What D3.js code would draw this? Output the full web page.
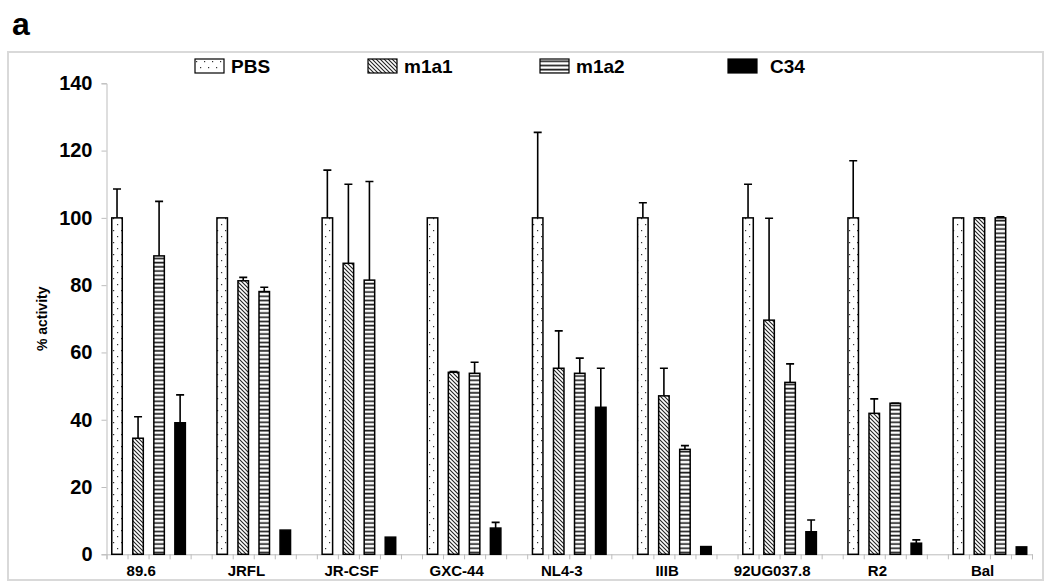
<!DOCTYPE html>
<html>
<head>
<meta charset="utf-8">
<script src="https://cdn.jsdelivr.net/npm/d3@7"></script>
<style>
  body { margin: 0; background: #fff; }
  text { font-family: Arial, "Liberation Sans", sans-serif; font-weight: bold; fill: #000; }
</style>
</head>
<body>
<svg id="chart" width="1050" height="588"></svg>
<script>
const strains = ['89.6', 'JRFL', 'JR-CSF', 'GXC-44', 'NL4-3', 'IIIB', '92UG037.8', 'R2', 'Bal'];
const seriesNames = ['PBS', 'm1a1', 'm1a2', 'C34'];

// bar heights (% activity), one array per series
const pbs  = [100, 100, 100, 100, 100, 100, 100, 100, 100];
const m1a1 = [34.5, 81.3, 86.5, 54.1, 55.3, 47.1, 69.6, 41.9, 100];
const m1a2 = [88.7, 78.1, 81.5, 53.8, 53.8, 31.2, 51.1, 44.9, 100];
const c34  = [39.1, 7.2, 5.1, 7.8, 43.7, 2.3, 6.7, 3.3, 2.2];

// top of error bar (null = no error bar)
const pbsErr  = [108.6, null, 114.2, null, 125.4, 104.5, 110, 117, null];
const m1a1Err = [40.9, 82.3, 110, 54.3, 66.4, 55.3, 99.9, 46.2, 100];
const m1a2Err = [104.9, 79.4, 110.8, 57.1, 58.3, 32.3, 56.6, 44.9, 100.3];
const c34Err  = [47.4, null, null, 9.5, 55.3, null, 10.2, 4.3, null];

const yTicks = [0, 20, 40, 60, 80, 100, 120, 140];

const values = [pbs, m1a1, m1a2, c34];
const errors = [pbsErr, m1a1Err, m1a2Err, c34Err];
const fills = ['url(#dots)', 'url(#diag)', 'url(#horiz)', '#000'];

const svg = d3.select('#chart');
const slotsPerGroup = 5;
const totalSlots = strains.length * slotsPerGroup - 1;

const x = d3.scaleLinear().domain([0, totalSlots]).range([106.5, 1032]);
const y = d3.scaleLinear().domain([0, 140]).range([554.3, 83.3]);
const barW = 10.5;

// patterns
const defs = svg.append('defs');
const dots = defs.append('pattern').attr('id', 'dots')
  .attr('patternUnits', 'userSpaceOnUse').attr('width', 8).attr('height', 12);
dots.append('rect').attr('width', 8).attr('height', 12).attr('fill', '#fff');
dots.append('rect').attr('x', 1).attr('y', 2).attr('width', 1.2).attr('height', 1.2).attr('fill', '#333');
dots.append('rect').attr('x', 5).attr('y', 8).attr('width', 1.2).attr('height', 1.2).attr('fill', '#333');

const diag = defs.append('pattern').attr('id', 'diag')
  .attr('patternUnits', 'userSpaceOnUse').attr('width', 4).attr('height', 4);
diag.append('rect').attr('width', 4).attr('height', 4).attr('fill', '#fff');
diag.append('path').attr('d', 'M-1,-1 L5,5 M-1,3 L1,5 M3,-1 L5,1')
  .attr('stroke', '#222').attr('stroke-width', 1.1);

const horiz = defs.append('pattern').attr('id', 'horiz')
  .attr('patternUnits', 'userSpaceOnUse').attr('width', 8).attr('height', 4.2);
horiz.append('rect').attr('width', 8).attr('height', 4.2).attr('fill', '#fff');
horiz.append('rect').attr('y', 1.4).attr('width', 8).attr('height', 1.7).attr('fill', '#222');

// outer frame and panel letter
svg.append('rect').attr('x', 8).attr('y', 52).attr('width', 1035).attr('height', 528)
  .attr('fill', 'none').attr('stroke', '#d9d9d9').attr('stroke-width', 2);
svg.append('text').attr('x', 12).attr('y', 35).style('font-size', '32px').text('a');

// y axis
const yAxis = svg.append('g').attr('transform', `translate(${x(0)},0)`)
  .call(d3.axisLeft(y).tickValues(yTicks).tickSize(5).tickPadding(9));
yAxis.select('.domain').attr('stroke', '#bdbdbd');
yAxis.selectAll('.tick line').attr('stroke', '#bdbdbd');
yAxis.selectAll('.tick text').style('font-size', '20px')
  .style('font-family', 'Arial, "Liberation Sans", sans-serif').style('font-weight', 'bold');

svg.append('text')
  .attr('transform', `translate(47,${(y(0) + y(140)) / 2}) rotate(-90)`)
  .attr('text-anchor', 'middle').style('font-size', '14px').text('% activity');

// x axis
const xAxis = svg.append('g').attr('transform', `translate(0,${y(0)})`)
  .call(d3.axisBottom(x).tickValues(d3.range(totalSlots + 1)).tickSize(5).tickFormat(''));
xAxis.select('.domain').attr('stroke', '#bdbdbd');
xAxis.selectAll('.tick line').attr('stroke', '#bdbdbd');

svg.append('g').selectAll('text').data(strains).join('text')
  .attr('x', (d, i) => x(i * slotsPerGroup + 1.65))
  .attr('y', 576)
  .attr('text-anchor', 'middle')
  .style('font-size', '15px')
  .text(d => d);

// bars
const barData = [];
seriesNames.forEach((s, j) => {
  strains.forEach((st, i) => {
    barData.push({ s: j, slot: i * slotsPerGroup + j, v: values[j][i], e: errors[j][i] });
  });
});

const bars = svg.append('g');
bars.selectAll('path.err').data(barData.filter(d => d.e != null)).join('path')
  .attr('class', 'err')
  .attr('d', d => {
    const cx = x(d.slot + 0.5);
    return `M${cx},${y(d.v)} V${y(d.e)} M${cx - 4},${y(d.e)} H${cx + 4}`;
  })
  .attr('stroke', '#000').attr('stroke-width', 1.6).attr('fill', 'none');

bars.selectAll('rect.bar').data(barData).join('rect')
  .attr('class', 'bar')
  .attr('x', d => x(d.slot + 0.5) - barW / 2)
  .attr('y', d => y(d.v))
  .attr('width', barW)
  .attr('height', d => y(0) - y(d.v))
  .attr('fill', d => fills[d.s])
  .attr('stroke', '#000').attr('stroke-width', 1.5);

// legend
const legend = svg.append('g');
const legendX = [195, 368, 540, 728];
seriesNames.forEach((s, j) => {
  const g = legend.append('g').attr('transform', `translate(${legendX[j]},59)`);
  g.append('rect').attr('width', 29).attr('height', 14)
    .attr('fill', fills[j]).attr('stroke', '#000').attr('stroke-width', 1.2);
  g.append('text').attr('x', j === 3 ? 42 : 36).attr('y', 14).style('font-size', '19px').text(s);
});
</script>
</body>
</html>
